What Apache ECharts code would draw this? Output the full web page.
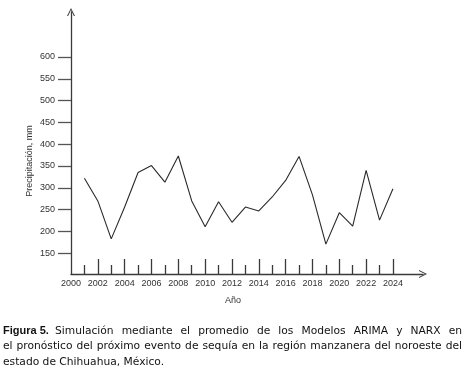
<!DOCTYPE html>
<html>
<head>
<meta charset="utf-8">
<script src="https://cdn.jsdelivr.net/npm/echarts@6/dist/echarts.min.js"></script>
<style>
html,body{margin:0;padding:0;background:#fff;}
#chart{width:464px;height:374px;}
</style>
</head>
<body>
<div id="chart"></div>
<script>
const years = [2001,2002,2003,2004,2005,2006,2007,2008,2009,2010,2011,2012,2013,2014,2015,2016,2017,2018,2019,2020,2021,2022,2023,2024];
const precip = [322,270,183,256,335,351,313,373,270,211,268,221,256,247,279,317,372,284,171,243,212,340,226,298];
const xLabelYears = [2000,2002,2004,2006,2008,2010,2012,2014,2016,2018,2020,2022,2024];
const majorTickYears = [2002,2004,2006,2008,2010,2012,2014,2016,2018,2020,2022,2024];
const minorTickYears = [2001,2003,2005,2007,2009,2011,2013,2015,2017,2019,2021,2023];
const yTicks = [150,200,250,300,350,400,450,500,550,600];
const yName = 'Precipitación, mm';
const xName = 'Año';
const captionBold = 'Figura 5.';
const captionLine1 = 'Simulación mediante el promedio de los Modelos ARIMA y NARX en';
const captionLine2 = 'el pronóstico del próximo evento de sequía en la región manzanera del noroeste del';
const captionLine3 = 'estado de Chihuahua, México.';

const axisColor = '#3a3a3a';
const labelFont = {fontFamily:'Liberation Sans', fontSize:9, color:'#333'};
const capFont = '10.7px DejaVu Sans';
const xMin = 2000, xMax = 2026.24;
const chevronUp = 'path://M0,10 L5,0 L10,10 L8.6,10 L5,2.6 L1.4,10 Z';

// justified caption layout helper
const mctx = document.createElement('canvas').getContext('2d');
function justify(text, font, x0, x1, y) {
  mctx.font = font;
  const words = text.split(' ');
  const widths = words.map(w => mctx.measureText(w).width);
  const total = widths.reduce((a,b)=>a+b,0);
  const gap = (x1 - x0 - total) / (words.length - 1);
  const out = [];
  let x = x0;
  words.forEach((w,i) => {
    out.push({type:'text', x:x, y:y, style:{text:w, font:font, fill:'#111', verticalAlign:'middle'}});
    x += widths[i] + gap;
  });
  return out;
}

const chart = echarts.init(document.getElementById('chart'), null, {renderer:'canvas'});
chart.setOption({
  animation:false,
  backgroundColor:'#fff',
  grid:{left:71, right:41, top:12, bottom:100, containLabel:false},
  xAxis:[{
    type:'value', min:xMin, max:xMax,
    axisLine:{show:true, lineStyle:{color:axisColor, width:1.3}, symbol:['none', chevronUp], symbolSize:[8,9]},
    axisTick:{show:true, inside:true, length:15, lineStyle:{color:axisColor, width:1.3}, customValues:majorTickYears},
    axisLabel:{show:true, margin:5, customValues:xLabelYears, formatter:v=>String(v), ...labelFont},
    splitLine:{show:false}
  },{
    type:'value', min:xMin, max:xMax, position:'bottom',
    axisLine:{show:false},
    axisTick:{show:true, inside:true, length:9, lineStyle:{color:axisColor, width:1.3}, customValues:minorTickYears},
    axisLabel:{show:false},
    splitLine:{show:false}
  }],
  yAxis:{
    type:'value', min:102.5, max:703,
    axisLine:{show:true, lineStyle:{color:axisColor, width:1.3}, symbol:['none', chevronUp], symbolSize:[8,9]},
    axisTick:{show:true, length:13, lineStyle:{color:'#555', width:1.3}, customValues:yTicks},
    axisLabel:{show:true, margin:16, customValues:yTicks, ...labelFont},
    splitLine:{show:false}
  },
  series:[{
    type:'line',
    data:years.map((y,i)=>[y,precip[i]]),
    showSymbol:false,
    lineStyle:{color:'#2a2a2a', width:1.1},
    z:3
  }],
  graphic:[
    {type:'text', x:30, y:161, rotation:Math.PI/2, style:{text:yName, font:'9px Liberation Sans', fill:'#333', align:'center', verticalAlign:'middle'}},
    {type:'text', x:233, y:301, style:{text:xName, font:'9px Liberation Sans', fill:'#333', align:'center', verticalAlign:'middle'}},
    {type:'text', x:3, y:331, style:{text:captionBold, font:'bold 11px Liberation Sans', fill:'#111', verticalAlign:'middle'}},
    ...justify(captionLine1, capFont, 55, 462, 331),
    ...justify(captionLine2, capFont, 3, 462, 346.5),
    {type:'text', x:3, y:362, style:{text:captionLine3, font:capFont, fill:'#111', verticalAlign:'middle'}}
  ]
});
</script>
</body>
</html>
